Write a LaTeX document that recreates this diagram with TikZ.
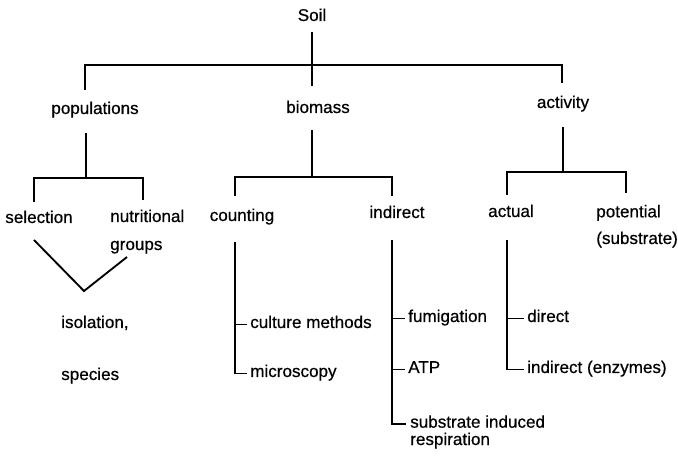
\documentclass[tikz,border=0pt]{standalone}
\usepackage{fontspec}
\setmainfont{Liberation Sans}
\newfontfamily\scanfont{Liberation Sans}[FakeBold=0.6]
\usepackage{tikz}

\tikzset{
  lbl/.style={inner sep=0pt, font=\scanfont\fontsize{12.8}{15}\selectfont},
  lblc/.style={lbl, anchor=base},
  lblw/.style={lbl, anchor=base west},
  ln/.style={line width=1.4pt}
}

\begin{document}
\begin{tikzpicture}[x=0.75pt, y=-0.75pt]
\useasboundingbox (0,0) rectangle (678,459);

% labels (two-line ones sit on their last line)
\node[lblc] (soil) at (312,21) {Soil};
\node[lblc] (pop) at (95,114) {populations};
\node[lblc] (bio) at (318,113) {biomass};
\node[lblc] (act) at (563,108) {activity};
\node[lblc] (sel) at (39,223) {selection};
\node[lblw, align=left, font=\scanfont\fontsize{12.8}{21}\selectfont] (nut) at (110,250) {nutritional\\groups};
\node[lblc] (cnt) at (242,221) {counting};
\node[lblc] (indr) at (397,218) {indirect};
\node[lblc] (actl) at (511,217) {actual};
\node[lblw, align=left, font=\scanfont\fontsize{12.8}{20}\selectfont] (pot) at (596,244) {potential\\(substrate)};
\node[lblw] (iso) at (61,328) {isolation,};
\node[lblw] (spc) at (61,380) {species};
\node[lblw] (cul) at (250,328) {culture methods};
\node[lblw] (mic) at (250,377) {microscopy};
\node[lblw] (fum) at (408,322) {fumigation};
\node[lblw] (atp) at (408,373) {ATP};
\node[lblw, align=left, font=\scanfont\fontsize{12.8}{13}\selectfont] (sir) at (410,445) {substrate induced\\respiration};
\node[lblw] (dir) at (527,322) {direct};
\node[lblw] (enz) at (527,373) {indirect (enzymes)};

% junctions
\coordinate (soil-b) at (312,32);
\coordinate (bar) at (312,65);
\coordinate (bio-t) at (312,86);
\coordinate (pop-t) at (85,90);
\coordinate (act-t) at (562,83);
\coordinate (pop-b) at (86,133);
\coordinate (pop-f) at (86,178);
\coordinate (sel-t) at (34,202);
\coordinate (nut-t) at (143,200);
\coordinate (bio-b) at (312,130);
\coordinate (bio-f) at (312,177);
\coordinate (cnt-t) at (235,196);
\coordinate (indr-t) at (392,196);
\coordinate (act-b) at (563,127);
\coordinate (act-f) at (563,172);
\coordinate (actl-t) at (507,195);
\coordinate (pot-t) at (626,193);
\coordinate (sel-b) at (34,240);
\coordinate (v) at (84,291);
\coordinate (nut-b) at (127,257);
\coordinate (cnt-b) at (235,242);
\coordinate (indr-b) at (392,240);
\coordinate (actl-b) at (507,240);

% tree
\draw[ln] (soil-b) -- (bio-t);
\draw[ln] (pop-t) |- (bar) -| (act-t);
\draw[ln] (pop-b) -- (pop-f);
\draw[ln] (sel-t) |- (pop-f) -| (nut-t);
\draw[ln] (bio-b) -- (bio-f);
\draw[ln] (cnt-t) |- (bio-f) -| (indr-t);
\draw[ln] (act-b) -- (act-f);
\draw[ln] (actl-t) |- (act-f) -| (pot-t);
\draw[ln] (sel-b) -- (v) -- (nut-b);

% lists
\draw[ln] (cnt-b) |- ([xshift=-2.5pt]mic.mid west);
\draw[ln] (cnt-b |- cul.mid west) -- ([xshift=-2.5pt]cul.mid west);
\draw[ln] (indr-b) |- ([xshift=-3pt, yshift=13pt]sir.mid west);
\draw[ln] (indr-b |- fum.mid west) -- ([xshift=-2.5pt]fum.mid west);
\draw[ln] (indr-b |- atp.mid west) -- ([xshift=-2.5pt]atp.mid west);
\draw[ln] (actl-b) |- ([xshift=-2.5pt]enz.mid west);
\draw[ln] (actl-b |- dir.mid west) -- ([xshift=-2.5pt]dir.mid west);
\end{tikzpicture}
\end{document}
